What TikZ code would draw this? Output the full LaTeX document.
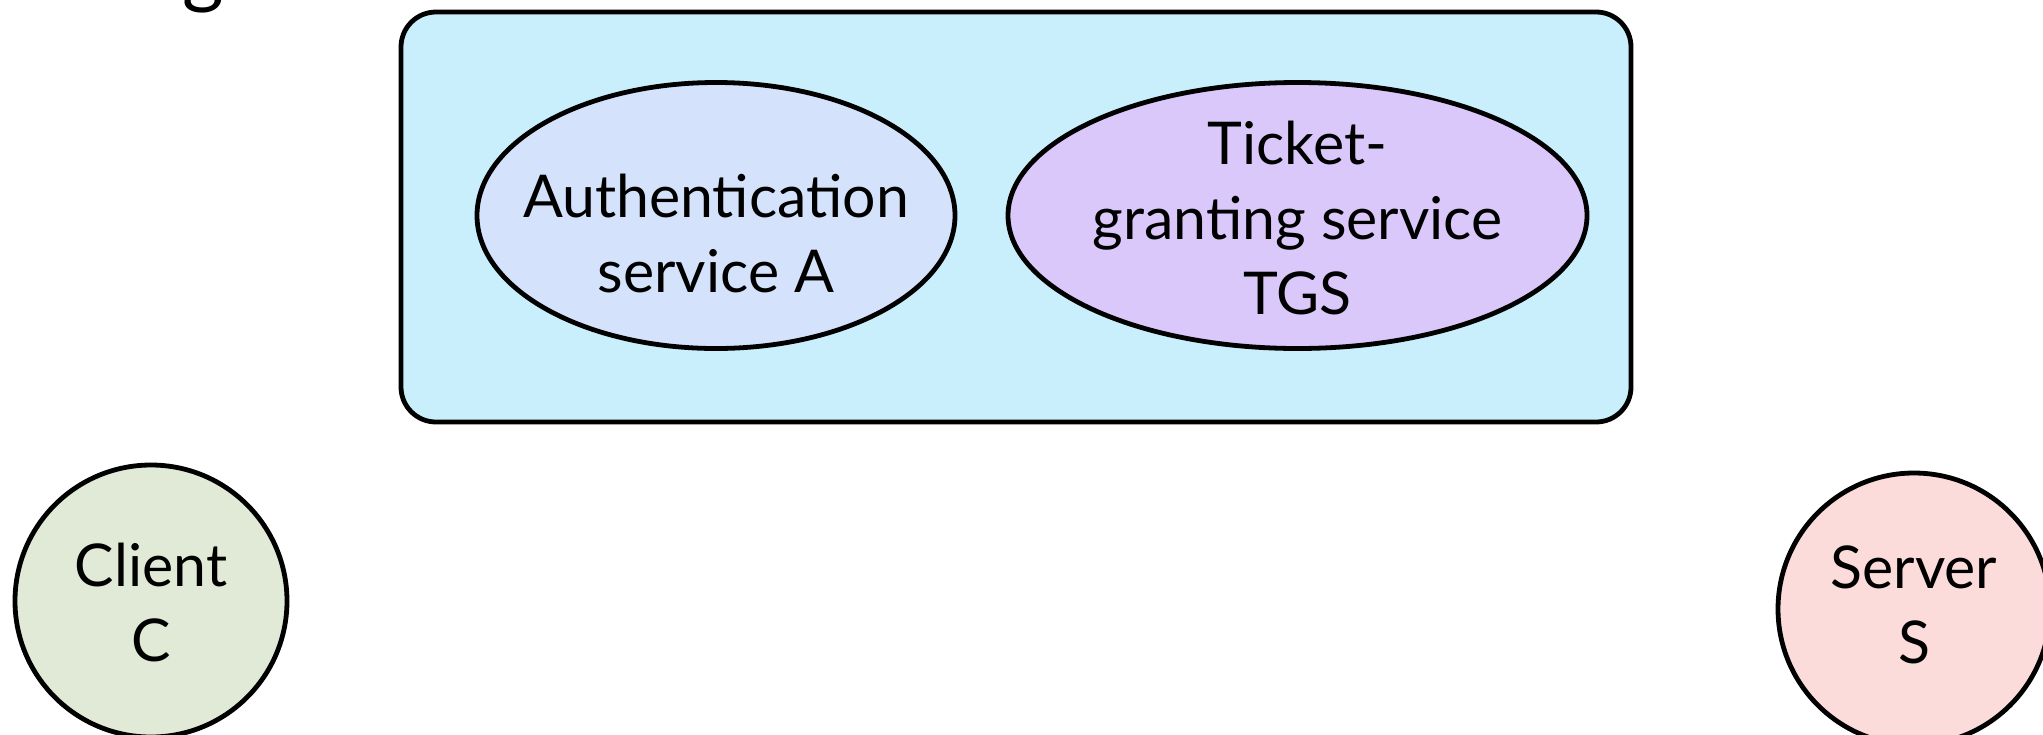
\documentclass[tikz,border=0pt]{standalone}
\usepackage{fontspec}
\setmainfont{Lato}
\usetikzlibrary{shapes.geometric}
\definecolor{kdcfill}{HTML}{C9EFFD}
\definecolor{asfill}{HTML}{D4E2FB}
\definecolor{tgsfill}{HTML}{DAC8FA}
\definecolor{clientfill}{HTML}{E0EAD6}
\definecolor{serverfill}{HTML}{FCDCDB}
\tikzset{
  outline/.style={draw=black, line width=2.4pt},
  label text/.style={font=\fontsize{29.5}{37.5}\selectfont, align=center, text=black, inner sep=0pt},
  service/.style={outline, ellipse, inner sep=0pt},
  party/.style={outline, circle, inner sep=0pt, minimum size=136pt},
}
\begin{document}
\begin{tikzpicture}[x=0.5pt, y=-0.5pt]
  \useasboundingbox (0,0) rectangle (2043,734);
  % fragment of the heading above
  \node[font=\fontsize{40}{40}\selectfont, anchor=base, inner sep=0pt] (heading) at (203,-2) {g};
  % key distribution centre
  \node[outline, rectangle, rounded corners=17.5pt, fill=kdcfill,
        minimum width=615pt, minimum height=205pt, inner sep=0pt] (kdc) at (1016,217) {};
  \node[service, fill=asfill, minimum width=239pt, minimum height=133pt] (as) at (716,215.5) {};
  \node[label text] (astext) at (716,234) {Authentication\\service A};
  \node[service, fill=tgsfill, minimum width=289.5pt, minimum height=133pt] (tgs) at (1297.5,215.5) {};
  \node[label text] (tgstext) at (1297.5,218) {Ticket-\\granting service\\TGS};
  % parties
  \node[party, fill=clientfill] (client) at (151,601) {};
  \node[label text] (clienttext) at (151,602) {Client\\C};
  \node[party, fill=serverfill] (server) at (1914,609) {};
  \node[label text] (servertext) at (1914,605) {Server\\S};
\end{tikzpicture}
\end{document}
